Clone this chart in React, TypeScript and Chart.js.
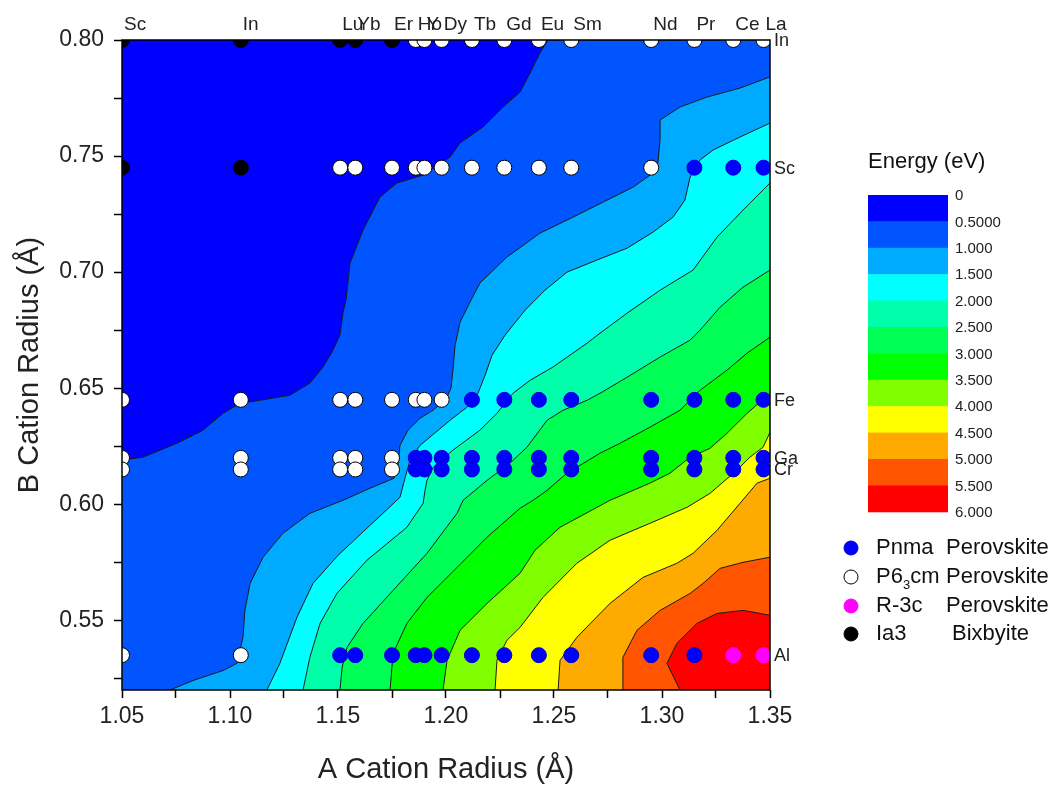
import React, { useEffect, useRef } from 'react';
import { Chart, registerables } from 'chart.js';

Chart.register(...registerables);

const FONT = "'Liberation Sans', Arial, Helvetica, sans-serif";

// ---------- data ----------
const A_NAMES = ['Sc', 'In', 'Lu', 'Yb', 'Er', 'Ho', 'Y', 'Dy', 'Tb', 'Gd', 'Eu', 'Sm', 'Nd', 'Pr', 'Ce', 'La'];
const A_RADII = [1.05, 1.105, 1.151, 1.158, 1.175, 1.186, 1.19, 1.198, 1.212, 1.227, 1.243, 1.258, 1.295, 1.315, 1.333, 1.347];
const B_NAMES = ['In', 'Sc', 'Fe', 'Ga', 'Cr', 'Al'];
const B_RADII = [0.8, 0.745, 0.645, 0.62, 0.615, 0.535];

const X_TICKS = [1.05, 1.075, 1.1, 1.125, 1.15, 1.175, 1.2, 1.225, 1.25, 1.275, 1.3, 1.325, 1.35];
const Y_TICKS = [0.525, 0.55, 0.575, 0.6, 0.625, 0.65, 0.675, 0.7, 0.725, 0.75, 0.775, 0.8];

// phase map: [B cation, list of A cations]
const PNMA_SITES: [string, string[]][] = [
  ['Sc', ['Pr', 'Ce', 'La']],
  ['Fe', ['Tb', 'Gd', 'Eu', 'Sm', 'Nd', 'Pr', 'Ce', 'La']],
  ['Ga', ['Ho', 'Y', 'Dy', 'Tb', 'Gd', 'Eu', 'Sm', 'Nd', 'Pr', 'Ce', 'La']],
  ['Cr', ['Ho', 'Y', 'Dy', 'Tb', 'Gd', 'Eu', 'Sm', 'Nd', 'Pr', 'Ce', 'La']],
  ['Al', ['Lu', 'Yb', 'Er', 'Ho', 'Y', 'Dy', 'Tb', 'Gd', 'Eu', 'Sm', 'Nd', 'Pr']],
];
const P63CM_SITES: [string, string[]][] = [
  ['In', ['Ho', 'Y', 'Dy', 'Tb', 'Gd', 'Eu', 'Sm', 'Nd', 'Pr', 'Ce', 'La']],
  ['Sc', ['Lu', 'Yb', 'Er', 'Ho', 'Y', 'Dy', 'Tb', 'Gd', 'Eu', 'Sm', 'Nd']],
  ['Fe', ['Sc', 'In', 'Lu', 'Yb', 'Er', 'Ho', 'Y', 'Dy']],
  ['Ga', ['Sc', 'In', 'Lu', 'Yb', 'Er']],
  ['Cr', ['Sc', 'In', 'Lu', 'Yb', 'Er']],
  ['Al', ['Sc', 'In']],
];
const R3C_SITES: [string, string[]][] = [['Al', ['Ce', 'La']]];
const IA3_SITES: [string, string[]][] = [
  ['In', ['Sc', 'In', 'Lu', 'Yb', 'Er']],
  ['Sc', ['Sc', 'In']],
];

// energy contour lines (x = A radius, y = B radius), level -> polyline
const CONTOUR_LEVELS = [0.5, 1.0, 1.5, 2.0, 2.5, 3.0, 3.5, 4.0, 4.5, 5.0, 5.5];
const C05 = [[1.05, 0.619], [1.0597, 0.6203], [1.0755, 0.6263], [1.0875, 0.6319], [1.0968, 0.6392], [1.1046, 0.6435], [1.1139, 0.6448], [1.1278, 0.647], [1.137, 0.6522], [1.1431, 0.6591], [1.1472, 0.6655], [1.1509, 0.6728], [1.1523, 0.6823], [1.1537, 0.6879], [1.1556, 0.7039], [1.1616, 0.7181], [1.1694, 0.7323], [1.1773, 0.7384], [1.1894, 0.7418], [1.2019, 0.7496], [1.2065, 0.7556], [1.2171, 0.7625], [1.2264, 0.7711], [1.2343, 0.7776], [1.2389, 0.7858], [1.2435, 0.7944], [1.2472, 0.8], [1.35, 0.8]];
const C10 = [[1.0722, 0.52], [1.0829, 0.5241], [1.0968, 0.5284], [1.1032, 0.5315], [1.106, 0.5427], [1.1069, 0.5543], [1.1093, 0.5659], [1.1153, 0.5772], [1.1245, 0.5875], [1.137, 0.5961], [1.1523, 0.6017], [1.1648, 0.6069], [1.1759, 0.6112], [1.1778, 0.6168], [1.1787, 0.6254], [1.1824, 0.6319], [1.188, 0.6371], [1.194, 0.6405], [1.2, 0.6453], [1.2023, 0.65], [1.2032, 0.6578], [1.2042, 0.6685], [1.2065, 0.6784], [1.2111, 0.6871], [1.2157, 0.6953], [1.2282, 0.7065], [1.2435, 0.7168], [1.2588, 0.7237], [1.2745, 0.731], [1.2866, 0.7366], [1.2958, 0.7427], [1.2981, 0.747], [1.2991, 0.7569], [1.2991, 0.7655], [1.3083, 0.7711], [1.3208, 0.7754], [1.3361, 0.7793], [1.35, 0.7841]];
const C15 = [[1.1171, 0.52], [1.1231, 0.5315], [1.131, 0.5513], [1.1384, 0.5659], [1.15, 0.578], [1.1648, 0.5909], [1.1787, 0.603], [1.181, 0.6112], [1.1833, 0.619], [1.188, 0.6254], [1.2019, 0.6362], [1.2097, 0.6418], [1.2148, 0.6478], [1.2181, 0.6556], [1.2213, 0.6642], [1.2273, 0.6728], [1.2366, 0.6836], [1.2458, 0.6922], [1.256, 0.7], [1.2699, 0.7052], [1.2838, 0.7103], [1.2958, 0.7172], [1.3051, 0.7237], [1.3106, 0.731], [1.313, 0.7409], [1.3176, 0.7483], [1.3236, 0.7526], [1.3361, 0.7582], [1.35, 0.7642]];
const C20 = [[1.1338, 0.52], [1.137, 0.5341], [1.1417, 0.5487], [1.1495, 0.5616], [1.1634, 0.5759], [1.1819, 0.5901], [1.1894, 0.6004], [1.1903, 0.606], [1.1912, 0.6103], [1.194, 0.6159], [1.2032, 0.6233], [1.2157, 0.6319], [1.2236, 0.6392], [1.231, 0.6478], [1.2389, 0.6534], [1.2495, 0.6591], [1.2653, 0.6694], [1.2713, 0.6737], [1.2838, 0.6823], [1.2991, 0.6922], [1.3144, 0.7009], [1.3255, 0.7151], [1.3375, 0.7267], [1.35, 0.7384]];
const C25 = [[1.1509, 0.52], [1.1519, 0.5297], [1.1542, 0.5384], [1.1616, 0.5487], [1.1755, 0.5629], [1.1912, 0.5789], [1.2051, 0.5961], [1.2079, 0.6017], [1.219, 0.6103], [1.2296, 0.6177], [1.2375, 0.6246], [1.2468, 0.6362], [1.2542, 0.6405], [1.2653, 0.6448], [1.2713, 0.6478], [1.2838, 0.6547], [1.2991, 0.6634], [1.313, 0.6707], [1.3176, 0.675], [1.3269, 0.6849], [1.3375, 0.6935], [1.35, 0.7009]];
const C30 = [[1.1741, 0.52], [1.1755, 0.5358], [1.1819, 0.5487], [1.1912, 0.5599], [1.2051, 0.5728], [1.219, 0.5858], [1.2343, 0.5983], [1.2403, 0.6017], [1.2468, 0.606], [1.256, 0.6134], [1.2713, 0.622], [1.2806, 0.6263], [1.2944, 0.6332], [1.3083, 0.6405], [1.3176, 0.6491], [1.3301, 0.6578], [1.3394, 0.6651], [1.35, 0.672]];
const C35 = [[1.1986, 0.52], [1.2005, 0.5328], [1.2065, 0.5457], [1.219, 0.5573], [1.2343, 0.5703], [1.2412, 0.5802], [1.2528, 0.5901], [1.2759, 0.6017], [1.2944, 0.6091], [1.3037, 0.6134], [1.313, 0.6203], [1.3222, 0.6241], [1.3301, 0.6306], [1.3394, 0.6392], [1.35, 0.6478]];
const C40 = [[1.2227, 0.52], [1.2236, 0.5328], [1.2282, 0.5414], [1.2343, 0.547], [1.2449, 0.5599], [1.2606, 0.5746], [1.2759, 0.5845], [1.2944, 0.5918], [1.3116, 0.5987], [1.3222, 0.6047], [1.3347, 0.6147], [1.3407, 0.6203], [1.3468, 0.6246], [1.35, 0.631]];
const C45 = [[1.2519, 0.52], [1.2528, 0.5328], [1.2606, 0.5427], [1.2759, 0.5573], [1.2912, 0.5685], [1.3069, 0.5746], [1.3144, 0.5789], [1.3255, 0.5888], [1.3361, 0.6004], [1.344, 0.6091], [1.35, 0.6112]];
const C50 = [[1.2815, 0.52], [1.2819, 0.5341], [1.2884, 0.5457], [1.2991, 0.5543], [1.313, 0.5616], [1.319, 0.5659], [1.3269, 0.5724], [1.3375, 0.575], [1.35, 0.5772]];
const C55 = [[1.3023, 0.52], [1.3083, 0.52], [1.3023, 0.5315], [1.3069, 0.5401], [1.3162, 0.5487], [1.3255, 0.553], [1.3375, 0.5543], [1.35, 0.5522]];
const CONTOURS = [C05, C10, C15, C20, C25, C30, C35, C40, C45, C50, C55];

// colour scale
const BAND_COLORS = ['#0000FF', '#0055FF', '#00AAFF', '#00FFFF', '#00FFAA', '#00FF55', '#00FF00', '#80FF00', '#FFFF00', '#FFAA00', '#FF5500', '#FF0000'];
const COLORBAR_LABELS = ['0', '0.5000', '1.000', '1.500', '2.000', '2.500', '3.000', '3.500', '4.000', '4.500', '5.000', '5.500', '6.000'];

// legend
const LEGEND_NAMES = ['Pnma', 'P6|3|cm', 'R-3c', 'Ia3'];
const LEGEND_KINDS = ['Perovskite', 'Perovskite', 'Perovskite', 'Bixbyite'];
const PHASE_FILL = ['#0000FF', '#FFFFFF', '#FF00FF', '#000000'];
const PHASE_BORDER = ['#0000D0', '#000000', '#FF00FF', '#000000'];

// ---------- helpers ----------
const aRadius = (n: string) => A_RADII[A_NAMES.indexOf(n)];
const bRadius = (n: string) => B_RADII[B_NAMES.indexOf(n)];
const sitesToPoints = (sites: [string, string[]][]) => {
  const out: { x: number; y: number }[] = [];
  sites.forEach(([b, as]) => as.forEach((a) => out.push({ x: aRadius(a), y: bRadius(b) })));
  return out;
};

const decorPlugin = {
  id: 'decor',
  beforeDatasetsDraw(chart: any) {
    const { ctx, chartArea: a } = chart;
    ctx.save();
    ctx.fillStyle = BAND_COLORS[0];
    ctx.fillRect(a.left, a.top, a.right - a.left, a.bottom - a.top);
    ctx.restore();
  },
  afterDatasetsDraw(chart: any) {
    const { ctx, chartArea: a, scales } = chart;
    ctx.save();
    ctx.strokeStyle = '#000';
    ctx.lineWidth = 1.5;
    ctx.strokeRect(a.left, a.top, a.right - a.left, a.bottom - a.top);
    // top labels (A cations)
    ctx.fillStyle = '#222';
    ctx.font = `19px ${FONT}`;
    ctx.textAlign = 'left';
    ctx.textBaseline = 'alphabetic';
    A_NAMES.forEach((n, i) => {
      ctx.fillText(n, scales.x.getPixelForValue(A_RADII[i]) + 2, 30);
    });
    // right labels (B cations)
    ctx.font = `18px ${FONT}`;
    ctx.textBaseline = 'middle';
    B_NAMES.forEach((n, i) => {
      ctx.fillText(n, a.right + 4, scales.y.getPixelForValue(B_RADII[i]) + 1);
    });
    ctx.restore();
  },
  afterDraw(chart: any) {
    const { ctx } = chart;
    ctx.save();
    // colour bar
    const x0 = 868, w = 80, y0 = 195, bh = 26.4;
    ctx.fillStyle = '#111';
    ctx.font = `22px ${FONT}`;
    ctx.textAlign = 'left';
    ctx.textBaseline = 'alphabetic';
    ctx.fillText('Energy (eV)', x0, 168);
    BAND_COLORS.forEach((c, i) => {
      ctx.fillStyle = c;
      ctx.fillRect(x0, y0 + i * bh, w, bh + 0.5);
    });
    ctx.fillStyle = '#222';
    ctx.font = `15px ${FONT}`;
    ctx.textBaseline = 'middle';
    COLORBAR_LABELS.forEach((t, i) => {
      ctx.fillText(t, x0 + w + 7, y0 + i * bh + 1);
    });
    // legend
    const rows = [548, 577, 606, 634];
    const kindX = [946, 946, 946, 952];
    LEGEND_NAMES.forEach((name, i) => {
      const cy = rows[i];
      ctx.beginPath();
      ctx.arc(851, cy, 7, 0, Math.PI * 2);
      ctx.fillStyle = PHASE_FILL[i];
      ctx.fill();
      ctx.lineWidth = 1;
      ctx.strokeStyle = PHASE_BORDER[i];
      ctx.stroke();
      ctx.fillStyle = '#111';
      ctx.textBaseline = 'middle';
      const parts = name.split('|');
      let x = 876;
      parts.forEach((p, k) => {
        const sub = k === 1;
        ctx.font = sub ? `13px ${FONT}` : `22px ${FONT}`;
        ctx.fillText(p, x, cy + (sub ? 8 : 0));
        x += ctx.measureText(p).width;
      });
      ctx.font = `22px ${FONT}`;
      ctx.fillText(LEGEND_KINDS[i], kindX[i], cy);
    });
    ctx.restore();
  },
};

const tickLabel = (v: any) => {
  const n = Number(v);
  return Math.abs(n * 20 - Math.round(n * 20)) < 1e-6 ? n.toFixed(2) : '';
};

export default function App() {
  const ref = useRef<HTMLCanvasElement | null>(null);
  useEffect(() => {
    if (!ref.current) return;
    const contourSets = CONTOURS.map((pts, k) => ({
      type: 'line' as const,
      label: `E = ${CONTOUR_LEVELS[k]} eV`,
      data: pts.map(([x, y]) => ({ x, y })),
      borderColor: '#1a1a1a',
      borderWidth: 1,
      backgroundColor: BAND_COLORS[k + 1],
      fill: 'start',
      pointRadius: 0,
      pointHoverRadius: 0,
      tension: 0,
      order: 100 - k,
    }));
    const phase = (label: string, pts: any[], i: number) => ({
      type: 'scatter' as const,
      label,
      data: pts,
      pointRadius: 7.5,
      pointHoverRadius: 7.5,
      backgroundColor: PHASE_FILL[i],
      borderColor: PHASE_BORDER[i],
      borderWidth: 1,
      clip: 0,
      order: i,
    });
    const chart = new Chart(ref.current, {
      type: 'scatter',
      data: {
        datasets: [
          phase('Pnma Perovskite', sitesToPoints(PNMA_SITES), 0),
          phase('P63cm Perovskite', sitesToPoints(P63CM_SITES), 1),
          phase('R-3c Perovskite', sitesToPoints(R3C_SITES), 2),
          phase('Ia3 Bixbyite', sitesToPoints(IA3_SITES), 3),
          ...contourSets,
        ] as any,
      },
      options: {
        responsive: false,
        animation: false,
        devicePixelRatio: 1,
        layout: { padding: { left: 0, right: 281, top: 40, bottom: 0 } },
        plugins: { legend: { display: false }, tooltip: { enabled: false } },
        events: [],
        scales: {
          x: {
            type: 'linear',
            min: 1.05,
            max: 1.35,
            afterFit: (s: any) => { s.height = 99; },
            afterBuildTicks: (s: any) => { s.ticks = X_TICKS.map((v) => ({ value: v })); },
            ticks: { callback: tickLabel, autoSkip: false, maxRotation: 0, padding: 5, color: '#222', font: { family: FONT, size: 23 } },
            grid: { drawOnChartArea: false, tickLength: 8, tickColor: '#000', tickWidth: 1.5 },
            border: { display: false },
            title: { display: true, text: 'A Cation Radius (Å)', color: '#222', font: { family: FONT, size: 29 }, padding: { top: 0, bottom: 2 } },
          },
          y: {
            type: 'linear',
            min: 0.52,
            max: 0.8,
            afterFit: (s: any) => { s.width = 122; },
            afterBuildTicks: (s: any) => { s.ticks = Y_TICKS.map((v) => ({ value: v })); },
            ticks: { callback: tickLabel, autoSkip: false, padding: 10, color: '#222', font: { family: FONT, size: 23 } },
            grid: { drawOnChartArea: false, tickLength: 8, tickColor: '#000', tickWidth: 1.5 },
            border: { display: false },
            title: { display: true, text: 'B Cation Radius (Å)', color: '#222', font: { family: FONT, size: 29 }, padding: { top: 13, bottom: 0 } },
          },
        },
      } as any,
      plugins: [decorPlugin],
    });
    return () => chart.destroy();
  }, []);
  return (
    <div style={{ position: 'absolute', left: 0, top: 0, width: 1051, height: 789, background: '#fff' }}>
      <canvas ref={ref} width={1051} height={789} style={{ display: 'block' }} />
    </div>
  );
}
